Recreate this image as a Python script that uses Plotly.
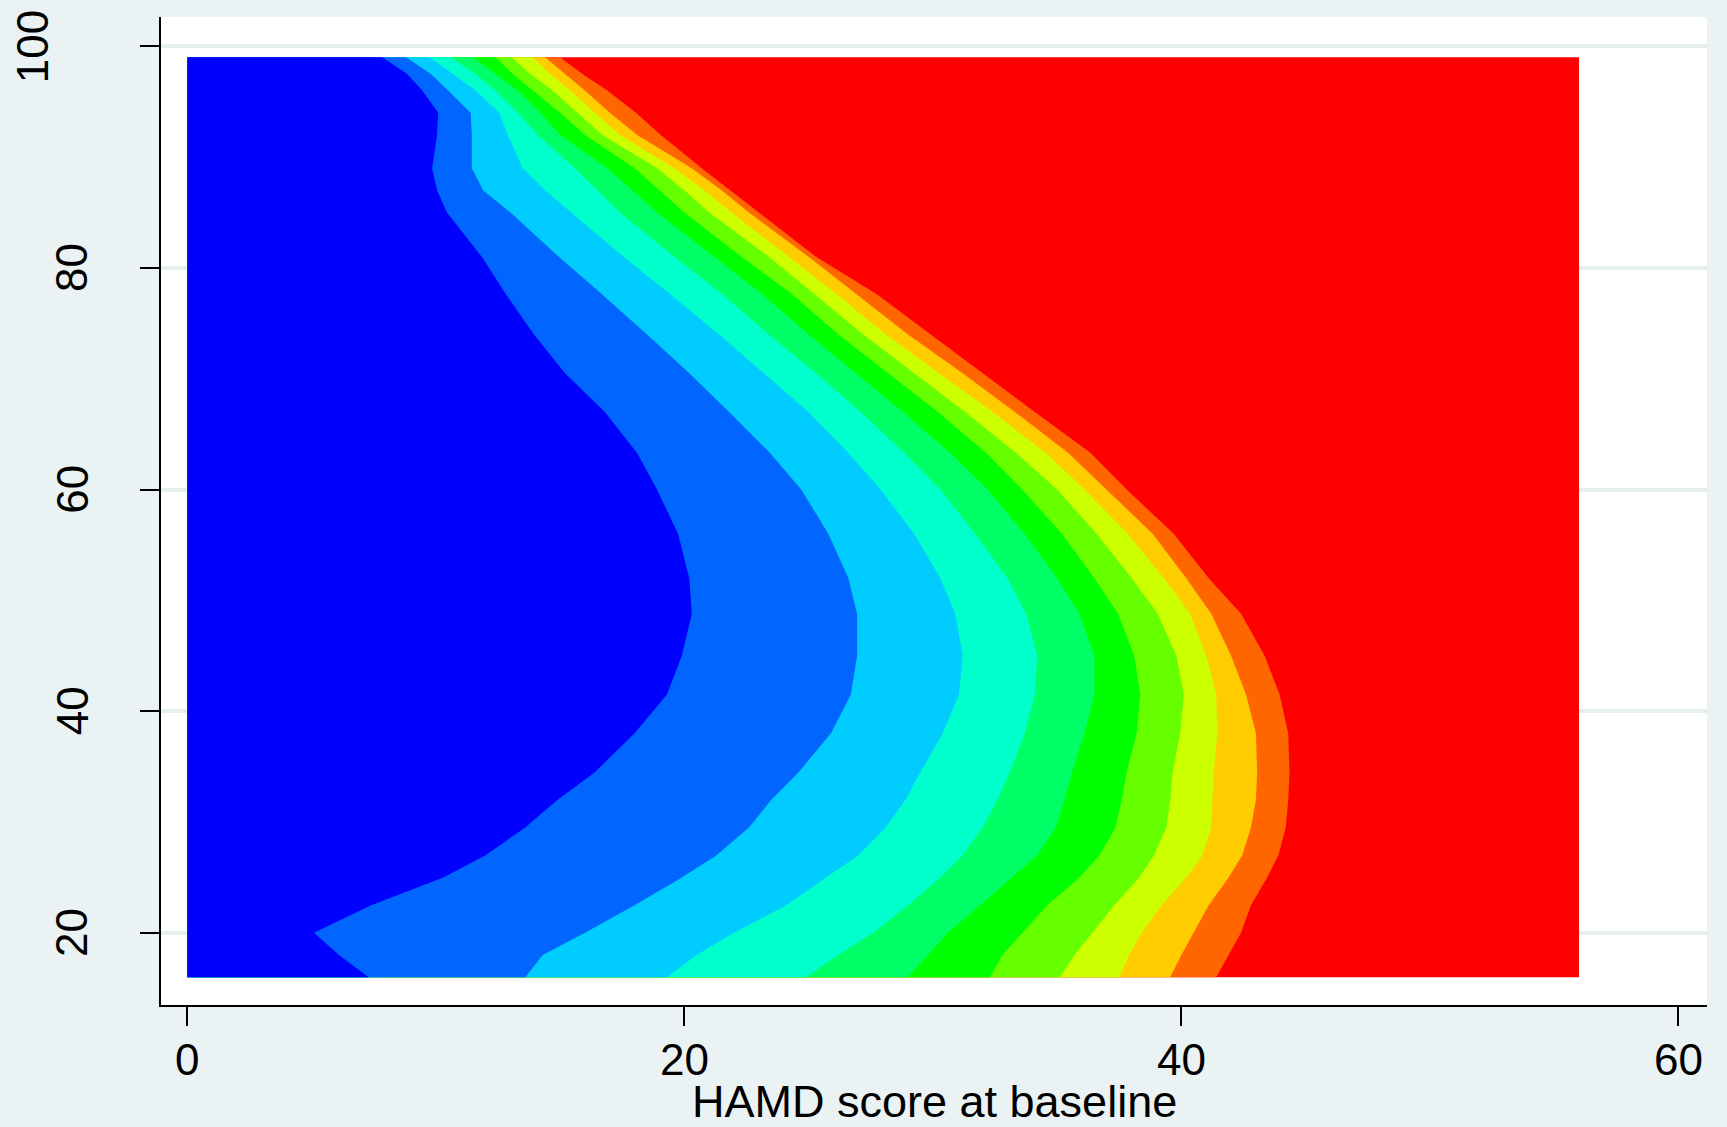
import plotly.graph_objects as go

# ---------------- data ----------------
# HAMD score at baseline (x) at which each contour boundary lies, for each y level
y_levels = [16, 18, 20, 22.5, 25, 27, 29.5, 32, 34.5, 38, 41.5, 45, 48.8, 52, 56,
            60, 63.3, 67, 70.5, 74, 77.7, 81, 85, 87, 89, 92, 94, 96, 97.5, 99]

b1 = [7.3, 6.1, 5.1, 7.4, 10.3, 12.0, 13.6, 14.9, 16.4, 18.0, 19.3, 19.9, 20.3, 20.2, 19.75,
      18.9, 18.1, 16.8, 15.2, 13.95, 12.8, 11.85, 10.45, 10.05, 9.85, 10.05, 10.1, 9.45, 8.85, 7.85]
b2 = [13.6, 14.3, 16.0, 18.0, 19.9, 21.3, 22.6, 23.5, 24.6, 25.9, 26.7, 26.95, 26.95, 26.6, 25.8,
      24.7, 23.45, 21.8, 20.2, 18.5, 16.65, 14.95, 13.0, 11.9, 11.45, 11.45, 11.4, 10.5, 9.8, 8.8]
b3 = [19.3, 20.5, 22.0, 24.1, 25.7, 27.0, 28.1, 28.9, 29.5, 30.4, 31.05, 31.2, 30.9, 30.3, 29.25,
      27.9, 26.6, 25.0, 23.2, 21.4, 19.4, 17.55, 15.45, 14.4, 13.5, 12.9, 12.55, 11.6, 10.7, 9.75]
b4 = [24.9, 26.2, 27.6, 29.0, 30.3, 31.2, 32.0, 32.6, 33.1, 33.7, 34.1, 34.2, 33.75, 33.0, 31.7,
      30.3, 28.85, 27.1, 25.3, 23.4, 21.5, 19.6, 17.4, 16.5, 15.6, 14.1, 13.3, 12.4, 11.6, 10.6]
b5 = [29.0, 29.8, 30.6, 31.9, 33.2, 34.2, 34.95, 35.3, 35.6, 36.1, 36.5, 36.5, 35.9, 35.0, 33.7,
      32.2, 30.7, 28.8, 26.9, 25.0, 23.1, 21.2, 18.9, 17.9, 16.9, 15.0, 14.2, 13.3, 12.4, 11.5]
b6 = [32.3, 32.8, 33.6, 34.6, 35.9, 36.7, 37.35, 37.6, 37.8, 38.2, 38.35, 38.1, 37.45, 36.5, 35.2,
      33.6, 32.15, 30.2, 28.2, 26.2, 24.3, 22.3, 20.0, 19.0, 18.0, 16.0, 15.0, 13.9, 13.1, 12.4]
b7 = [35.1, 35.7, 36.4, 37.3, 38.3, 38.9, 39.4, 39.55, 39.65, 39.95, 40.1, 39.8, 39.05, 38.0, 36.6,
      35.0, 33.35, 31.3, 29.25, 27.2, 25.2, 23.4, 21.0, 20.0, 18.9, 16.7, 15.7, 14.7, 13.8, 13.05]
b8 = [37.5, 37.9, 38.4, 39.2, 40.2, 40.85, 41.2, 41.25, 41.3, 41.45, 41.4, 41.0, 40.35, 39.3, 37.85,
      36.1, 34.55, 32.4, 30.25, 28.1, 26.1, 24.2, 21.9, 20.8, 19.6, 17.4, 16.4, 15.4, 14.6, 13.9]
b9 = [39.55, 40.0, 40.5, 41.1, 41.9, 42.45, 42.8, 43.0, 43.05, 43.0, 42.6, 42.0, 41.2, 40.2, 38.85,
      37.0, 35.45, 33.3, 31.2, 29.0, 26.9, 25.0, 22.6, 21.5, 20.3, 18.1, 17.0, 16.0, 15.2, 14.4]
b10 = [41.4, 41.9, 42.4, 42.8, 43.45, 43.9, 44.2, 44.3, 44.35, 44.3, 43.95, 43.35, 42.4, 41.1, 39.7,
       37.8, 36.35, 34.1, 32.0, 29.9, 27.7, 25.3, 23.0, 21.85, 20.7, 19.05, 18.05, 16.9, 15.9, 15.0]

boundaries = [b1, b2, b3, b4, b5, b6, b7, b8, b9, b10]
x_extent = [0, 56]              # HAMD range covered by the contour grid

band_colors = ["#0000ff", "#0066ff", "#00ccff", "#00ffcc", "#00ff66", "#00ff00",
               "#66ff00", "#ccff00", "#ffcc00", "#ff6600", "#ff0000"]

x_ticks = [0, 20, 40, 60]
x_tick_labels = ["0", "20", "40", "60"]
y_ticks = [20, 40, 60, 80, 100]
y_tick_labels = ["20", "40", "60", "80", "100"]
x_title = "HAMD score at baseline"

# ---------------- figure ----------------
BG = "#eaf2f3"
FONT = "Liberation Sans, Arial, Helvetica, sans-serif"
FS = 44

fig = go.Figure()

y0, y1 = y_levels[0], y_levels[-1]
# highest band covers the whole grid
fig.add_trace(go.Scatter(
    x=[x_extent[0], x_extent[1], x_extent[1], x_extent[0]],
    y=[y0, y0, y1, y1],
    fill="toself", fillcolor=band_colors[-1], mode="lines",
    line=dict(width=0, color=band_colors[-1]), hoverinfo="skip", showlegend=False))

# lower bands drawn on top: region left of boundary k gets colour k-1
for k in range(len(boundaries) - 1, -1, -1):
    bx = boundaries[k]
    xs = [x_extent[0]] + bx + [x_extent[0]]
    ys = [y0] + y_levels + [y1]
    fig.add_trace(go.Scatter(
        x=xs, y=ys, fill="toself", fillcolor=band_colors[k], mode="lines",
        line=dict(width=0, color=band_colors[k]), hoverinfo="skip", showlegend=False))

# y tick labels (rotated) as annotations
for v, lab in zip(y_ticks, y_tick_labels):
    xpos = -0.0835 if lab == "100" else -0.0575
    fig.add_annotation(x=xpos, xref="paper", y=v, yref="y", text=lab, showarrow=False,
                       textangle=-90, xanchor="center", yanchor="middle",
                       font=dict(family=FONT, size=FS, color="black"))

# x tick labels as annotations
for v, lab in zip(x_ticks, x_tick_labels):
    fig.add_annotation(x=v, xref="x", y=-0.0547, yref="paper", text=lab, showarrow=False,
                       xanchor="center", yanchor="middle",
                       font=dict(family=FONT, size=FS, color="black"))

fig.add_annotation(x=0.5, xref="paper", y=-0.0975, yref="paper", text=x_title,
                   showarrow=False, xanchor="center", yanchor="middle",
                   font=dict(family=FONT, size=45, color="black"))

fig.update_layout(
    width=1727, height=1127,
    margin=dict(l=161, r=20, t=17, b=122),
    paper_bgcolor=BG, plot_bgcolor="white",
    font=dict(family=FONT, size=FS, color="black"),
    showlegend=False,
    hovermode=False,
    xaxis=dict(range=[-1.058, 61.15], tickvals=x_ticks, showticklabels=False,
               ticks="outside", ticklen=19, tickwidth=2, tickcolor="black",
               showline=True, linecolor="black", linewidth=2, showgrid=False,
               zeroline=False),
    yaxis=dict(range=[13.49, 102.64], tickvals=y_ticks, showticklabels=False,
               ticks="outside", ticklen=19, tickwidth=2, tickcolor="black",
               showline=True, linecolor="black", linewidth=2,
               showgrid=True, gridcolor="#e6eef0", gridwidth=4, zeroline=False),
)

fig.write_html(
    "out.html",
    config={"displayModeBar": False},
    post_script="document.body.style.margin='0';document.body.style.background='" + BG + "';",
)
